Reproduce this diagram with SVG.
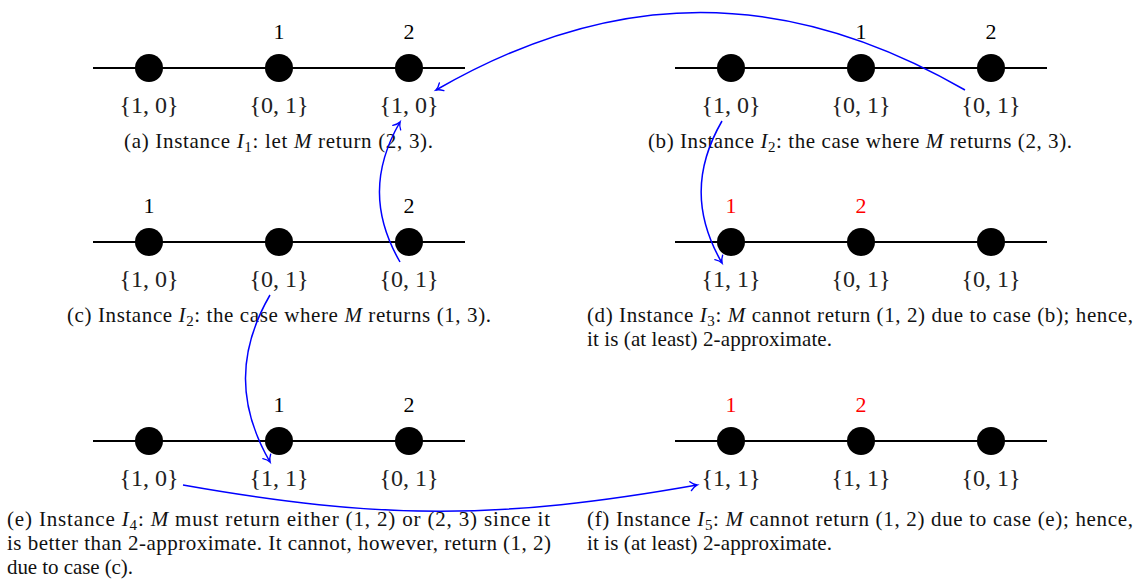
<svg xmlns="http://www.w3.org/2000/svg" width="1138" height="583" viewBox="0 0 1138 583">
<style>
.ln{stroke:#000;stroke-width:2}
.nd{fill:#000}
.num{font-family:"Liberation Serif",serif;font-size:22px;text-anchor:middle;fill:#000}
.red{fill:#f00}
.set{font-family:"Liberation Serif",serif;font-size:24px;text-anchor:middle;fill:#222}
.cap{font-family:"Liberation Serif",serif;font-size:21px;fill:#111}
.it{font-style:italic}
.sub{font-size:15px}
.arr{fill:none;stroke:#00f;stroke-width:1.5;marker-end:url(#ah)}
</style>
<defs>
<marker id="ah" markerUnits="userSpaceOnUse" markerWidth="14" markerHeight="14" viewBox="-8 -7 10 14" refX="0" refY="0" orient="auto" overflow="visible">
<path d="M-6.5,-4.5 C-4,-1.8 -1.5,-0.4 0,0 C-1.5,0.4 -4,1.8 -6.5,4.5" fill="none" stroke="#00f" stroke-width="1.4" stroke-linecap="round"/>
</marker>
</defs>

<g id="panel-a">
<line class="ln" x1="93" y1="68" x2="465" y2="68"/>
<g id="a-n1"><circle class="nd" cx="149" cy="68" r="14"/><text class="set" x="149" y="113">{1, 0}</text></g>
<g id="a-n2"><circle class="nd" cx="279" cy="68" r="14"/><text class="num" x="279" y="39">1</text><text class="set" x="279" y="113">{0, 1}</text></g>
<g id="a-n3"><circle class="nd" cx="409" cy="68" r="14"/><text class="num" x="409" y="39">2</text><text class="set" x="409" y="113">{1, 0}</text></g>
<text class="cap" x="124" y="148" textLength="309">(a) Instance <tspan class="it">I</tspan><tspan class="sub" dy="4">1</tspan><tspan dy="-4">: let </tspan><tspan class="it">M</tspan> return (2, 3).</text>
</g>

<g id="panel-b">
<line class="ln" x1="675" y1="68" x2="1047" y2="68"/>
<g id="b-n1"><circle class="nd" cx="731" cy="68" r="14"/><text class="set" x="731" y="113">{1, 0}</text></g>
<g id="b-n2"><circle class="nd" cx="861" cy="68" r="14"/><text class="num" x="861" y="39">1</text><text class="set" x="861" y="113">{0, 1}</text></g>
<g id="b-n3"><circle class="nd" cx="991" cy="68" r="14"/><text class="num" x="991" y="39">2</text><text class="set" x="991" y="113">{0, 1}</text></g>
<text class="cap" x="648" y="148" textLength="424">(b) Instance <tspan class="it">I</tspan><tspan class="sub" dy="4">2</tspan><tspan dy="-4">: the case where </tspan><tspan class="it">M</tspan> returns (2, 3).</text>
</g>

<g id="panel-c">
<line class="ln" x1="93" y1="242" x2="465" y2="242"/>
<g id="c-n1"><circle class="nd" cx="149" cy="242" r="14"/><text class="num" x="149" y="213">1</text><text class="set" x="149" y="287">{1, 0}</text></g>
<g id="c-n2"><circle class="nd" cx="279" cy="242" r="14"/><text class="set" x="279" y="287">{0, 1}</text></g>
<g id="c-n3"><circle class="nd" cx="409" cy="242" r="14"/><text class="num" x="409" y="213">2</text><text class="set" x="409" y="287">{0, 1}</text></g>
<text class="cap" x="67" y="322" textLength="424">(c) Instance <tspan class="it">I</tspan><tspan class="sub" dy="4">2</tspan><tspan dy="-4">: the case where </tspan><tspan class="it">M</tspan> returns (1, 3).</text>
</g>

<g id="panel-d">
<line class="ln" x1="675" y1="242" x2="1047" y2="242"/>
<g id="d-n1"><circle class="nd" cx="731" cy="242" r="14"/><text class="num red" x="731" y="213">1</text><text class="set" x="731" y="287">{1, 1}</text></g>
<g id="d-n2"><circle class="nd" cx="861" cy="242" r="14"/><text class="num red" x="861" y="213">2</text><text class="set" x="861" y="287">{0, 1}</text></g>
<g id="d-n3"><circle class="nd" cx="991" cy="242" r="14"/><text class="set" x="991" y="287">{0, 1}</text></g>
<text class="cap" x="587" y="322" textLength="546">(d) Instance <tspan class="it">I</tspan><tspan class="sub" dy="4">3</tspan><tspan dy="-4">: </tspan><tspan class="it">M</tspan> cannot return (1, 2) due to case (b); hence,</text>
<text class="cap" x="587" y="346" textLength="245">it is (at least) 2-approximate.</text>
</g>

<g id="panel-e">
<line class="ln" x1="93" y1="441" x2="465" y2="441"/>
<g id="e-n1"><circle class="nd" cx="149" cy="441" r="14"/><text class="set" x="149" y="486">{1, 0}</text></g>
<g id="e-n2"><circle class="nd" cx="279" cy="441" r="14"/><text class="num" x="279" y="412">1</text><text class="set" x="279" y="486">{1, 1}</text></g>
<g id="e-n3"><circle class="nd" cx="409" cy="441" r="14"/><text class="num" x="409" y="412">2</text><text class="set" x="409" y="486">{0, 1}</text></g>
<text class="cap" x="7" y="526" textLength="543">(e) Instance <tspan class="it">I</tspan><tspan class="sub" dy="4">4</tspan><tspan dy="-4">: </tspan><tspan class="it">M</tspan> must return either (1, 2) or (2, 3) since it</text>
<text class="cap" x="7" y="550" textLength="544">is better than 2-approximate. It cannot, however, return (1, 2)</text>
<text class="cap" x="7" y="574" textLength="126">due to case (c).</text>
</g>

<g id="panel-f">
<line class="ln" x1="675" y1="441" x2="1047" y2="441"/>
<g id="f-n1"><circle class="nd" cx="731" cy="441" r="14"/><text class="num red" x="731" y="412">1</text><text class="set" x="731" y="486">{1, 1}</text></g>
<g id="f-n2"><circle class="nd" cx="861" cy="441" r="14"/><text class="num red" x="861" y="412">2</text><text class="set" x="861" y="486">{1, 1}</text></g>
<g id="f-n3"><circle class="nd" cx="991" cy="441" r="14"/><text class="set" x="991" y="486">{0, 1}</text></g>
<text class="cap" x="587" y="526" textLength="546">(f) Instance <tspan class="it">I</tspan><tspan class="sub" dy="4">5</tspan><tspan dy="-4">: </tspan><tspan class="it">M</tspan> cannot return (1, 2) due to case (e); hence,</text>
<text class="cap" x="587" y="550" textLength="245">it is (at least) 2-approximate.</text>
</g>

<g id="connectors">
<path class="arr" d="M965,90 C786,-13.5 615,-13.5 436,90"/>
<path class="arr" d="M400,262 C372.6,214.5 372.6,169.5 400,122"/>
<path class="arr" d="M722,121 C694.2,169.1 694.2,214.9 722,263"/>
<path class="arr" d="M270,295 C237.3,351.6 237.3,405.1 270,462"/>
<path class="arr" d="M183,485 C381,520 499,520 697,485"/>
</g>
</svg>
